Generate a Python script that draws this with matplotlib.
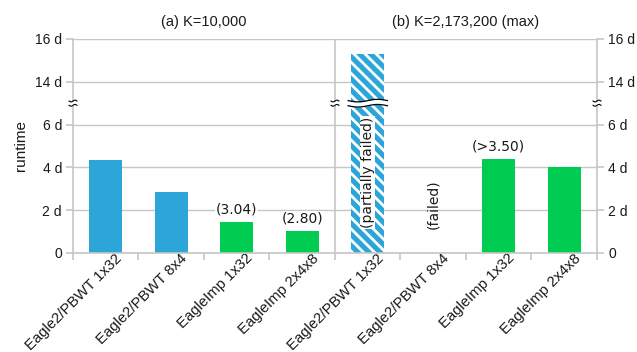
import numpy as np
import matplotlib.pyplot as plt
import matplotlib.transforms as mtransforms

# runtimes in days
tools = ["Eagle2/PBWT 1x32", "Eagle2/PBWT 8x4", "EagleImp 1x32", "EagleImp 2x4x8"]
runtime_k10k = [4.35, 2.85, 1.43, 1.02]
runtime_kmax = [15.3, 0.0, 4.37, 4.00]
speedup_k10k = ["", "", "(3.04)", "(2.80)"]
speedup_kmax = ["", "", "(>3.50)", ""]
bar_colors = ["#2CA5D8", "#2CA5D8", "#00CC52", "#00CC52"]
titles = ["(a) K=10,000", "(b) K=2,173,200 (max)"]
ytick_days = [0, 2, 4, 6, 14, 16]

# axis is cut between 7 d and 13 d
CUT_LO, CUT_SHIFT = 7, 6


def to_pos(v):
    return v if v <= CUT_LO else v - CUT_SHIFT


plt.rcParams["font.family"] = ["Liberation Sans", "DejaVu Sans"]
plt.rcParams["hatch.linewidth"] = 2.0
txt = "#1a1a1a"
grid_c = "#C6C6C6"

fig = plt.figure(figsize=(6.37, 3.52), dpi=100)
ax = fig.add_axes([0.1146, 0.2813, 0.8226, 0.6080])

x = np.arange(8)
values = runtime_k10k + runtime_kmax
colors = bar_colors + bar_colors
labels = speedup_k10k + speedup_kmax

ax.set_xlim(-0.5, 7.5)
ax.set_ylim(0, 10)
ax.set_yticks([to_pos(v) for v in ytick_days])
ax.set_yticklabels(["0" if v == 0 else f"{v} d" for v in ytick_days])
ax.grid(axis="y", color=grid_c, lw=1)
ax.set_axisbelow(True)

for i, (v, c) in enumerate(zip(values, colors)):
    if v <= 0:
        continue
    if i == 4:
        ax.bar(x[i], to_pos(v), width=0.5, facecolor=c, edgecolor="white",
               hatch="\\\\\\", lw=0, zorder=2)
    else:
        ax.bar(x[i], to_pos(v), width=0.5, color=c, zorder=2)

for i, (v, lab) in enumerate(zip(values, labels)):
    if lab:
        ax.annotate(lab, (x[i], to_pos(v)), xytext=(0, 4), textcoords="offset points",
                    ha="center", va="bottom", fontsize=10, color=txt,
                    family="DejaVu Sans",
                    bbox=dict(fc="white", ec="none", pad=0.5), zorder=4)

# notes on failed runs
ax.text(x[4], 3.75, "(partially failed)", rotation=90, ha="center", va="center",
        fontsize=10, color=txt, family="DejaVu Sans",
        bbox=dict(fc="white", ec="none", pad=0.5), zorder=4)
ax.text(x[5], 2.3, "(failed)", rotation=90, ha="center", va="center",
        fontsize=10, color=txt, family="DejaVu Sans", zorder=4)

# wavy cut across the tall bar
t = np.linspace(-0.3, 0.3, 60)
wave = 0.06 * np.sin(t / 0.6 * 2 * np.pi)
y_lo, y_hi = 6.88 + wave, 7.12 + wave
ax.fill_between(x[4] + t, y_lo, y_hi, color="white", zorder=3, lw=0)
ax.plot(x[4] + t, y_lo, color="black", lw=0.9, zorder=3)
ax.plot(x[4] + t, y_hi, color="black", lw=0.9, zorder=3)

# small cut marks on the vertical axes
for xm in [-0.5, 3.5, 7.5]:
    s = np.linspace(-0.06, 0.06, 20)
    w = 0.04 * np.sin(s / 0.12 * 2 * np.pi)
    ax.fill_between(xm + s, 6.9 + w, 7.1 + w, color="white", zorder=5, lw=0,
                    clip_on=False)
    ax.plot(xm + s, 6.9 + w, color="black", lw=0.8, zorder=5, clip_on=False)
    ax.plot(xm + s, 7.1 + w, color="black", lw=0.8, zorder=5, clip_on=False)

# panel separator
ax.axvline(3.5, color=grid_c, lw=1.2, zorder=1)

ax.set_xticks(x)
ax.set_xticklabels(tools + tools, rotation=45, ha="right", va="top",
                   rotation_mode="anchor", fontsize=10.7, color=txt)
ax.set_xticks(np.arange(-0.5, 8, 1), minor=True)
ax.tick_params(axis="x", which="major", length=0, pad=3)
ax.tick_params(axis="x", which="minor", length=5, color=grid_c, width=1.2)
ax.tick_params(axis="y", length=5, color=grid_c, width=1.2, labelsize=10,
               labelcolor=txt, left=True, right=True, labelleft=True,
               labelright=True, pad=3)
# nudge the slanted labels so they end just right of each bar centre
shift = mtransforms.ScaledTranslation(9 / 100, 6 / 100, fig.dpi_scale_trans)
for lbl in ax.get_xticklabels():
    lbl.set_transform(lbl.get_transform() + shift)

for side in ["top"]:
    ax.spines[side].set_visible(False)
for side in ["left", "right", "bottom"]:
    ax.spines[side].set_color(grid_c)
    ax.spines[side].set_linewidth(1.2)

ax.set_ylabel("runtime", fontsize=11, color=txt, labelpad=5)

ax.text(1.5, 1.045, titles[0], transform=ax.get_xaxis_transform(),
        ha="center", va="bottom", fontsize=10.5, color=txt)
ax.text(5.5, 1.045, titles[1], transform=ax.get_xaxis_transform(),
        ha="center", va="bottom", fontsize=10.5, color=txt)

fig.savefig("out.png", dpi=100)
